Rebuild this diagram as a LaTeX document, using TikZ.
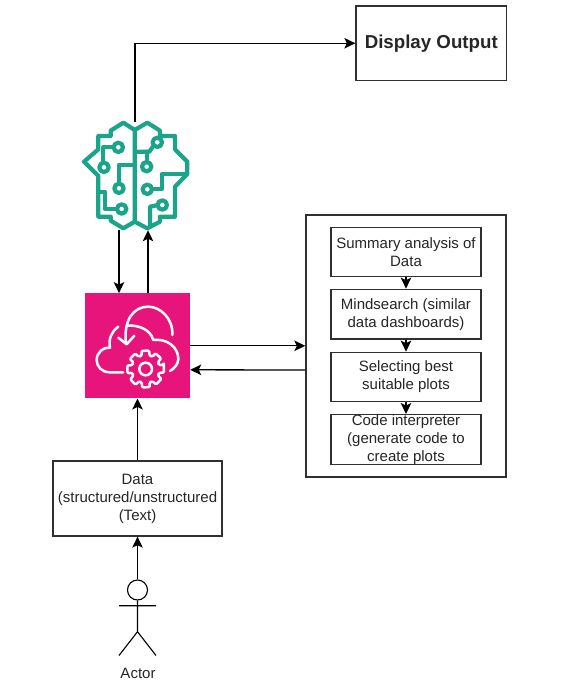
\documentclass[tikz,border=0pt]{standalone}
\usepackage{fontspec}
\setmainfont{Liberation Sans}
\usetikzlibrary{arrows.meta,calc}
\definecolor{edge}{HTML}{000000}
\definecolor{boxline}{HTML}{303030}
\definecolor{brainc}{HTML}{1AA58B}
\definecolor{pinkc}{HTML}{E7157B}
\tikzset{
  x=1pt,y=-1pt,
  boxed/.style={draw=boxline,line width=1.3pt,fill=white,inner sep=0pt,align=center,
    font=\fontsize{15}{18}\selectfont,text=black!85},
  arr/.style={draw=edge,line width=1.3pt,-{Stealth[length=11pt,width=10.5pt,inset=2.5pt]}},
  plain/.style={draw=edge,line width=1.2pt},
  brainl/.style={draw=brainc,line width=4.2pt,line join=round,line cap=round},
  cloudl/.style={draw=white,line width=2.5pt,line join=round,line cap=round},
}
\newcommand{\pbox}[7]{\node[#7,minimum width=#4 pt-#2 pt,minimum height=#5 pt-#3 pt] (#1) at ({(#2+#4)/2},{(#3+#5)/2}) {#6};}
\begin{document}
\begin{tikzpicture}
\useasboundingbox (0,0) rectangle (568,686);
\fill[white] (0,0) rectangle (568,686);
% main boxes
\pbox{display}{356}{6}{506.5}{80.5}{\raisebox{-2pt}{\fontsize{18.7}{22}\selectfont\bfseries Display Output}}{boxed}
\pbox{tools}{306}{215}{506}{477}{}{boxed}
\pbox{summary}{331}{227.7}{481}{276.7}{Summary analysis of\\Data}{boxed}
\pbox{mind}{331}{289.3}{481}{339}{Mindsearch (similar\\data dashboards)}{boxed}
\pbox{select}{331}{352.3}{481}{401.7}{Selecting best\\suitable plots}{boxed}
\pbox{code}{331}{415}{481}{464.3}{Code interpreter\\(generate code to\\create plots}{boxed}
\pbox{data}{53}{461}{222}{536}{Data\\(structured/unstructured\\(Text)}{boxed}
% icons as nodes
\node[fill=pinkc,inner sep=0pt,minimum size=105pt] (cloud) at (137.5,345.8) {};
\node[inner sep=0pt,minimum width=108pt,minimum height=108pt] (brain) at (135,176) {};
% brain icon
\begin{scope}[shift={(70,110)},x=0.3333pt,y=-0.3333pt]
  \draw[brainl] (194,60) -- (160,38) -- (122,62) -- (122,78) -- (85,78) -- (85,118) -- (42,155) -- (85,198) -- (85,320) -- (122,320) -- (122,332) -- (160,355) -- (194,335) -- cycle;
  \draw[brainl] (85,245) -- (105,245) -- (105,297) -- (140,297);
  \draw[brainl] (194,60) -- (232,38) -- (270,62) -- (270,78) -- (315,78) -- (315,118) -- (352,155) -- (352,192) -- (315,230) -- (315,320) -- (270,320) -- (270,335) -- (232,355) -- (194,335);
  \draw[brainl] (133,112) -- (100,112) -- (100,158);
  \draw[brainl] (147,222) -- (147,165) -- (190,165);
  \draw[brainl] (250,108) -- (238,125) -- (200,125);
  \draw[brainl] (230,158) -- (230,125);
  \draw[brainl] (245,238) -- (275,238) -- (275,192) -- (350,192);
  \draw[brainl] (264,285) -- (240,290) -- (240,345);
  \foreach \c/\p in {a/{145,112},b/{102,172},c/{147,235},d/{155,297},e/{262,97},f/{230,170},g/{232,238},h/{277,285}}
    \draw[brainl,fill=white] (\p) circle[radius=14];
\end{scope}
% cloud icon
\begin{scope}[shift={(75,285)},x=0.3333pt,y=-0.3333pt]
  \draw[cloudl] (145,262) -- (105,262) .. controls (80,262) and (65,245) .. (65,225) .. controls (65,203) and (85,185) .. (105,188) .. controls (100,160) and (110,140) .. (130,125);
  \draw[cloudl] (160,122) .. controls (185,120) and (225,130) .. (235,165) .. controls (275,160) and (310,185) .. (310,222) .. controls (310,235) and (300,250) .. (285,258);
  \draw[cloudl] (292,150) .. controls (295,100) and (255,65) .. (220,65) .. controls (175,65) and (145,105) .. (153,176);
  \draw[cloudl] (130,158) -- (155,178) -- (178,152);
  \begin{scope}[shift={(212,252)}]
    \draw[cloudl,rounded corners=1.2pt] (-13:56) \foreach \a in {0,45,...,315} { -- (\a-13:56) -- (\a+11:56) -- (\a+16:42) -- (\a+29:42) } -- cycle;
    \draw[cloudl] (0,0) circle[radius=19];
  \end{scope}
\end{scope}
% actor
\coordinate (headc) at (137.5,590);
\node[draw=edge,line width=1.1pt,circle,minimum size=20pt,inner sep=0pt] (head) at (headc) {};
\coordinate (hip) at (137.5,631.7);
\coordinate (armL) at (119,605.7);
\coordinate (armR) at (156,605.7);
\coordinate (legL) at (119,655.5);
\coordinate (legR) at (156,655.5);
\draw[plain,line width=1.1pt] (head.south) -- (hip) (armL) -- (armR) (legL) -- (hip) -- (legR);
\node[inner sep=0pt,font=\fontsize{15}{18}\selectfont,text=black!85] (actor) at (138,673) {Actor};
% connectors
\coordinate (bt) at (135,122);
\draw[arr] (bt) |- (display.west);
\draw[arr] ($(brain.south)+(-16,0)$) -- ($(cloud.north)+(-18.5,0)$);
\draw[arr] ($(cloud.north)+(10.5,0)$) -- ($(brain.south)+(13,0)$);
\draw[arr] (data.north) -- (cloud.south);
\draw[arr] (head.north) -- (data.south);
\draw[arr] (cloud.east) -- (cloud.east -| tools.west);
\draw[arr] ($(tools.west)+(0,24)$) -- ($(cloud.east)+(0,24)$);
\draw[arr] (summary.south) -- (mind.north);
\draw[arr] (mind.south) -- (select.north);
\draw[arr] (select.south) -- (code.north);
\end{tikzpicture}
\end{document}
